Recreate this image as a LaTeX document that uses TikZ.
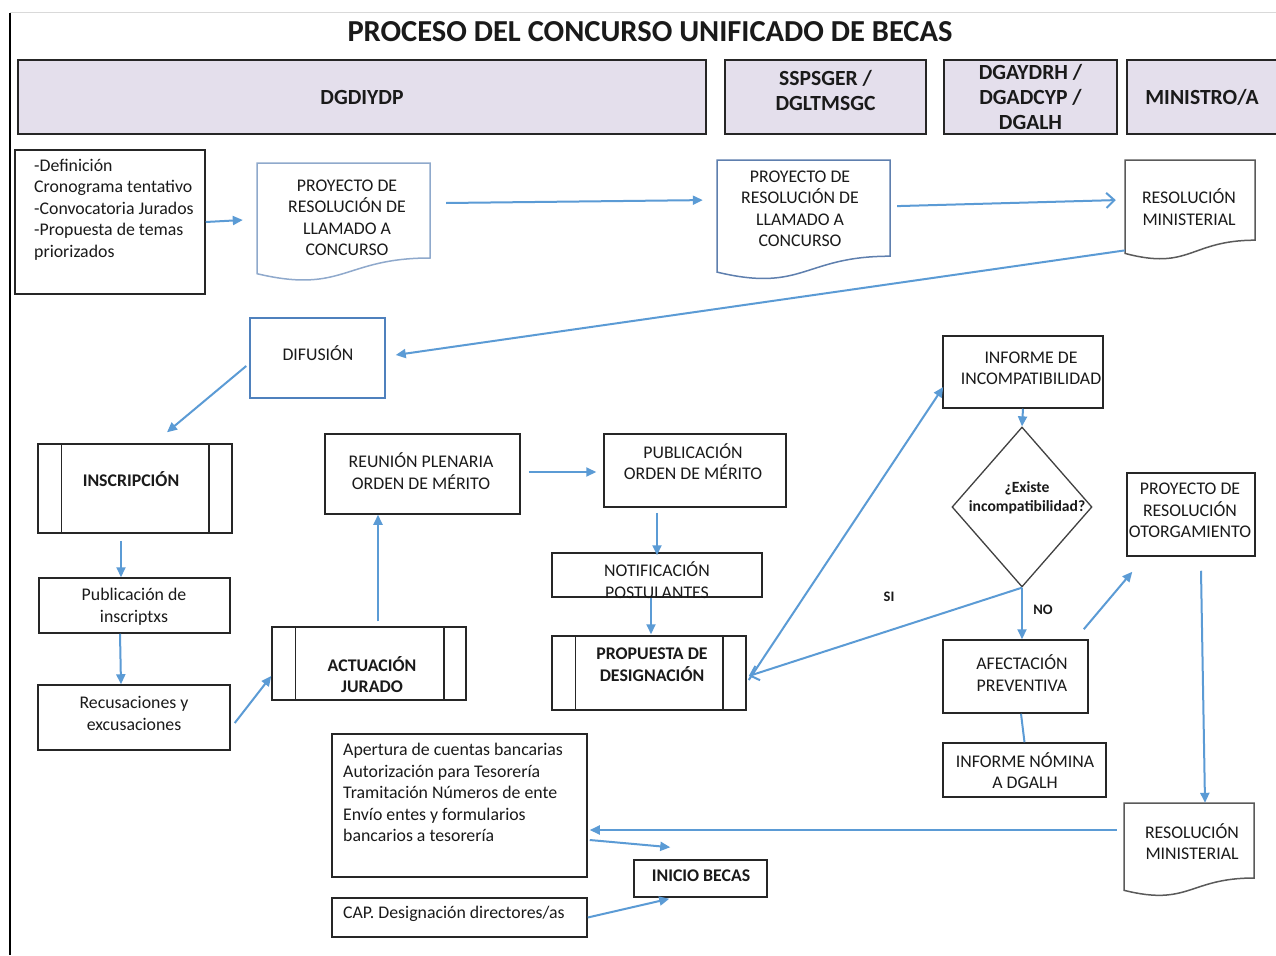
\documentclass[tikz,border=0pt]{standalone}
\usepackage{fontspec}
\setmainfont{Carlito}
\usetikzlibrary{arrows.meta,shapes.geometric,calc}
\definecolor{hdrfill}{HTML}{E4DFEC}
\definecolor{conn}{HTML}{5B9BD5}
\definecolor{boxline}{HTML}{262626}
\definecolor{txtc}{HTML}{1A1A1A}
\definecolor{docA}{HTML}{8FA9CC}
\definecolor{docB}{HTML}{5E7FAE}
\definecolor{docC}{HTML}{5A5A5A}
\definecolor{difc}{HTML}{4F81BD}
\definecolor{diac}{HTML}{404040}
\tikzset{
 box/.style={draw=boxline, line width=1.5pt, inner sep=0pt, rectangle},
 hdr/.style={box, fill=hdrfill},
 anch/.style={draw=none, inner sep=0pt, rectangle},
 txt/.style={text=txtc, align=center, inner sep=0pt, font=\fontsize{17.8}{21.5}\selectfont},
 btxt/.style={txt, font=\fontsize{17.8}{21.5}\selectfont\bfseries},
 htxt/.style={txt, font=\fontsize{21.6}{25}\selectfont\bfseries},
 arr/.style={draw=conn, line width=2pt, -{Triangle[length=10pt,width=9pt]}},
 oarr/.style={draw=conn, line width=2pt, -{Straight Barb[length=8pt,width=15pt]}},
 plainc/.style={draw=conn, line width=2pt},
}
\begin{document}
\begin{tikzpicture}[x=1pt,y=-1pt]
\useasboundingbox (0,0) rectangle (1276,955);
\clip (0,0) rectangle (1276,955);
\fill[white] (0,0) rectangle (1276,955);
% frame
\draw[line width=1.5pt, black] (10,13) -- (10,955);
\draw[line width=1pt, black!15] (10,13) -- (1276,13);
% title
\node[txt, font=\fontsize{30.5}{36}\selectfont\bfseries] (title) at (650,32) {PROCESO DEL CONCURSO UNIFICADO DE BECAS};
% headers
\node[hdr, minimum width=688pt, minimum height=74pt] (hA) at (362,97) {};
\node[htxt] (hAt) at (362,97) {DGDIYDP};
\node[hdr, minimum width=201pt, minimum height=74pt] (hB) at (825.5,97) {};
\node[htxt] (hBt) at (825.5,90.5) {SSPSGER /\\DGLTMSGC};
\node[hdr, minimum width=173pt, minimum height=74pt] (hC) at (1030.5,97) {};
\node[htxt] (hCt) at (1030.5,97) {DGAYDRH /\\DGADCYP /\\DGALH};
\node[hdr, minimum width=155pt, minimum height=74pt] (hD) at (1204.5,97) {};
\node[htxt] (hDt) at (1202,97) {MINISTRO/A};
% row 1
\node[box, minimum width=190pt, minimum height=144pt] (defbox) at (110,222) {};
\node[txt, align=left, anchor=west] (defbt) at (34,209.5) {-Definición\\Cronograma tentativo\\-Convocatoria Jurados\\-Propuesta de temas\\priorizados};
% doc1
\draw[docA, line width=1.5pt] (257,163) -- (430,163) -- (430,258) .. controls (343.5,258) and (343.5,294.2) .. (257,273.7) -- cycle;
\node[anch, minimum width=173pt, minimum height=95pt] (doc1) at (343.5,210.5) {};
\node[txt] (doc1t) at (347,218) {PROYECTO DE\\RESOLUCIÓN DE\\LLAMADO A\\CONCURSO};
% doc2
\draw[docB, line width=1.5pt] (717,160) -- (890,160) -- (890,256.2) .. controls (803.5,256.2) and (803.5,292.9) .. (717,272.1) -- cycle;
\node[anch, minimum width=173pt, minimum height=96.2pt] (doc2) at (803.5,208.1) {};
\node[txt] (doc2t) at (800,209) {PROYECTO DE\\RESOLUCIÓN DE\\LLAMADO A\\CONCURSO};
% doc3
\draw[docC, line width=1.5pt] (1125,160) -- (1255,160) -- (1255,240.2) .. controls (1190,240.2) and (1190,270.8) .. (1125,253.4) -- cycle;
\node[anch, minimum width=130pt, minimum height=80.2pt] (doc3) at (1190,200.1) {};
\node[txt] (doc3t) at (1189,207) {RESOLUCIÓN\\MINISTERIAL};
% difusion
\node[draw=difc, line width=1.5pt, inner sep=0pt, minimum width=135pt, minimum height=80pt] (difu) at (317.5,358) {};
\node[txt] (difut) at (318,353) {DIFUSIÓN};
% left column
\node[box, minimum width=194pt, minimum height=89pt] (insc) at (135,488.5) {};
\draw[boxline, line width=1.5pt] ([xshift=24pt]insc.north west) -- ([xshift=24pt]insc.south west);
\draw[boxline, line width=1.5pt] ([xshift=-24pt]insc.north east) -- ([xshift=-24pt]insc.south east);
\node[btxt] (insct) at (131,479) {INSCRIPCIÓN};
\node[box, minimum width=191pt, minimum height=55pt] (pubi) at (134.5,605.5) {};
\node[txt] (pubit) at (134,606.5) {Publicación de\\inscriptxs};
\node[box, minimum width=192pt, minimum height=65pt] (recu) at (134,717.5) {};
\node[txt] (recut) at (134,713.5) {Recusaciones y\\excusaciones};
% actuacion
\node[box, minimum width=194pt, minimum height=73pt] (actu) at (369,663.5) {};
\draw[boxline, line width=1.5pt] ([xshift=24pt]actu.north west) -- ([xshift=24pt]actu.south west);
\draw[boxline, line width=1.5pt] ([xshift=-23pt]actu.north east) -- ([xshift=-23pt]actu.south east);
\node[btxt] (actut) at (372,674.5) {ACTUACIÓN\\JURADO};
% reunion
\node[box, minimum width=195pt, minimum height=80pt] (reun) at (422.5,474) {};
\node[txt] (reunt) at (421,471) {REUNIÓN PLENARIA\\ORDEN DE MÉRITO};
% publicacion orden
\node[box, minimum width=182pt, minimum height=73pt] (pubm) at (695,470.5) {};
\node[txt] (pubmt) at (693,461.5) {PUBLICACIÓN\\ORDEN DE MÉRITO};
% notificacion
\node[box, minimum width=210pt, minimum height=44pt] (noti) at (657,575) {};
\node[txt] (notit) at (657,580) {NOTIFICACIÓN\\POSTULANTES};
% propuesta
\node[box, minimum width=194pt, minimum height=74pt] (prop) at (649,673) {};
\draw[boxline, line width=1.5pt] ([xshift=24pt]prop.north west) -- ([xshift=24pt]prop.south west);
\draw[boxline, line width=1.5pt] ([xshift=-24pt]prop.north east) -- ([xshift=-24pt]prop.south east);
\node[btxt] (propt) at (652,664.5) {PROPUESTA DE\\DESIGNACIÓN};
% informe incompatibilidad
\node[box, minimum width=160pt, minimum height=72pt] (infi) at (1023,372) {};
\node[txt] (infit) at (1031,368.5) {INFORME DE\\INCOMPATIBILIDAD};
% diamond
\node[draw=diac, line width=1.3pt, diamond, minimum width=140pt, minimum height=160pt, inner sep=0pt] (diam) at (1022,507) {};
\node[txt, font=\fontsize{15.6}{19}\selectfont\bfseries] (diamt) at (1027,497.5) {¿Existe\\incompatibilidad?};
% afectacion
\node[box, minimum width=145pt, minimum height=73pt] (afec) at (1015.5,676.5) {};
\node[txt] (afect) at (1022,673) {AFECTACIÓN\\PREVENTIVA};
\node[box, minimum width=163pt, minimum height=54pt] (inom) at (1024.5,770) {};
\node[txt] (inomt) at (1025,770.5) {INFORME NÓMINA\\A DGALH};
% proyecto otorgamiento
\node[box, minimum width=128pt, minimum height=83pt] (proy) at (1191,514.5) {};
\node[txt] (proyt) at (1190,510.5) {PROYECTO DE\\RESOLUCIÓN\\OTORGAMIENTO};
% doc4
\draw[docC, line width=1.5pt] (1124,803) -- (1254,803) -- (1254,878) .. controls (1189,878) and (1189,906.6) .. (1124,890.3) -- cycle;
\node[anch, minimum width=130pt, minimum height=75pt] (doc4) at (1189,840.5) {};
\node[txt] (doc4t) at (1192,841.5) {RESOLUCIÓN\\MINISTERIAL};
% bottom boxes
\node[box, minimum width=255pt, minimum height=143pt] (aper) at (459.5,805.5) {};
\node[txt, align=left, anchor=west] (apert) at (343,792.5) {Apertura de cuentas bancarias\\Autorización para Tesorería\\Tramitación Números de ente\\Envío entes y formularios\\bancarios a tesorería};
\node[box, minimum width=133pt, minimum height=37pt] (inic) at (700.5,878.5) {};
\node[btxt] (inict) at (701,876) {INICIO BECAS};
\node[box, minimum width=255pt, minimum height=39pt] (capd) at (459.5,917.5) {};
\node[txt, anchor=west] (capdt) at (343,914) {CAP. Designación directores/as};
% labels
\node[txt, font=\fontsize{14.5}{18}\selectfont\bfseries] (si) at (889,597) {SI};
\node[txt, font=\fontsize{14.5}{18}\selectfont\bfseries] (no) at (1043,610) {NO};
% connectors
\draw[arr] (defbox.east) -- ([shift={(-14,9.5)}]doc1.west);
\draw[arr] ([shift={(16,-7.5)}]doc1.east) -- ([shift={(-14,-8)}]doc2.west);
\draw[oarr] ([shift={(7,-2)}]doc2.east) -- ([shift={(-9,0)}]doc3.west);
\draw[arr] ([shift={(0,10)}]doc3.south west) -- ([shift={(10,-3)}]difu.east);
\draw[arr] ([shift={(-3,8)}]difu.west) -- ([shift={(32,-11)}]insc.north);
\draw[arr] ([shift={(-14,7)}]insc.south) -- ([shift={(-13.5,0)}]pubi.north);
\draw[arr] ([shift={(-14.5,0)}]pubi.south) -- ([shift={(-13,0)}]recu.north);
\draw[arr] ([shift={(4,5.5)}]recu.east) -- ([shift={(0,12.5)}]actu.west);
\draw[arr] ([shift={(9,-5)}]actu.north) -- ([shift={(-44.5,0)}]reun.south);
\draw[arr] ([shift={(8,-2)}]reun.east) -- ([shift={(-7,1.5)}]pubm.west);
\draw[arr] ([shift={(-38,5)}]pubm.south) -- ([shift={(0,3)}]noti.north);
\draw[arr] ([shift={(-6,0)}]noti.south) -- ([shift={(2,-1)}]prop.north);
\draw[arr] ([shift={(2,7)}]prop.east) -- ([shift={(1,15)}]infi.west);
\draw[arr] (infi.south) -- (diam.north);
\draw[oarr] (diam.south) -- ([shift={(2,3)}]prop.east);
\draw[arr] (diam.south) -- ([shift={(6.5,0)}]afec.north);
\draw[plainc] ([shift={(5.5,0)}]afec.south) -- (inom.north);
\draw[arr] ([shift={(-5,-10)}]afec.north east) -- ([shift={(6,15)}]proy.south west);
\draw[arr] ([shift={(10,14)}]proy.south) -- ([shift={(16,0)}]doc4.north);
\draw[arr] ([shift={(-7,-10.5)}]doc4.west) -- ([shift={(2,24.5)}]aper.east);
\draw[arr] ([shift={(2,34.5)}]aper.east) -- ([shift={(37,-12)}]inic.north west);
\draw[arr] (capd.east) -- ([shift={(36,1)}]inic.south west);
\end{tikzpicture}
\end{document}
